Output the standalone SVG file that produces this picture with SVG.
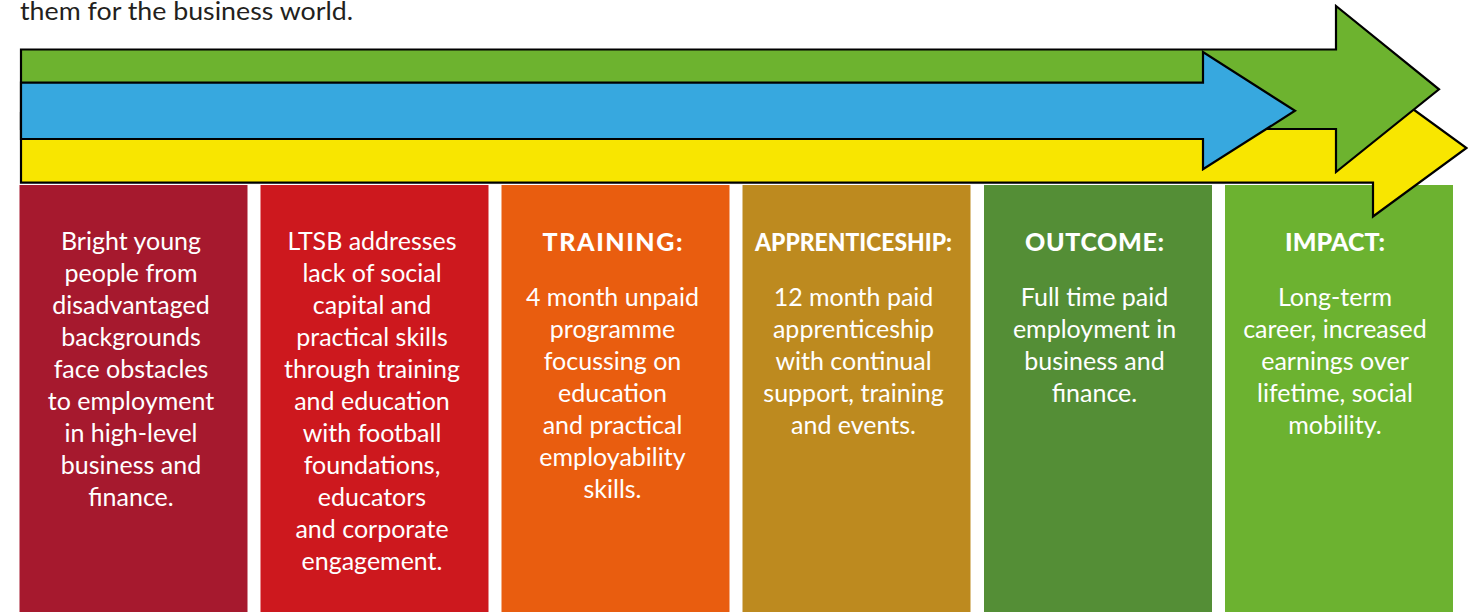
<svg xmlns="http://www.w3.org/2000/svg" width="1468" height="612" viewBox="0 0 1468 612">
<style>
.intro{font-family:Lato,"Noto Sans","Liberation Sans",sans-serif;font-size:25px;fill:#231f20}
.body{font-family:Lato,"Noto Sans","Liberation Sans",sans-serif;font-size:25px;fill:#ffffff;text-anchor:middle}
.head{font-family:Lato,"Noto Sans","Liberation Sans",sans-serif;font-size:25px;font-weight:900;fill:#ffffff;text-anchor:middle}
.arrow{stroke:#000;stroke-width:2.2;stroke-linejoin:miter}
</style>
<rect width="1468" height="612" fill="#ffffff"/>
<text class="intro" x="20" y="20" textLength="333" lengthAdjust="spacingAndGlyphs">them for the business world.</text>

<g id="col1">
<rect x="19.5" y="185" width="228" height="427" fill="#A6192E"/>
<text class="body"><tspan x="131" y="250">Bright young</tspan><tspan x="131" y="282">people from</tspan><tspan x="131" y="314">disadvantaged</tspan><tspan x="131" y="346">backgrounds</tspan><tspan x="131" y="378">face obstacles</tspan><tspan x="131" y="410">to employment</tspan><tspan x="131" y="442">in high-level</tspan><tspan x="131" y="474">business and</tspan><tspan x="131" y="506">finance.</tspan></text>
</g>
<g id="col2">
<rect x="260.5" y="185" width="228" height="427" fill="#CD181E"/>
<text class="body"><tspan x="372" y="250">LTSB addresses</tspan><tspan x="372" y="282">lack of social</tspan><tspan x="372" y="314">capital and</tspan><tspan x="372" y="346">practical skills</tspan><tspan x="372" y="378">through training</tspan><tspan x="372" y="410">and education</tspan><tspan x="372" y="442">with football</tspan><tspan x="372" y="474">foundations,</tspan><tspan x="372" y="506">educators</tspan><tspan x="372" y="538">and corporate</tspan><tspan x="372" y="570">engagement.</tspan></text>
</g>
<g id="col3">
<rect x="501.5" y="185" width="228" height="427" fill="#E95D0F"/>
<text class="head" x="612.5" y="250.5" textLength="140">TRAINING:</text>
<text class="body"><tspan x="612.5" y="306">4 month unpaid</tspan><tspan x="612.5" y="338">programme</tspan><tspan x="612.5" y="370">focussing on</tspan><tspan x="612.5" y="402">education</tspan><tspan x="612.5" y="434">and practical</tspan><tspan x="612.5" y="466">employability</tspan><tspan x="612.5" y="498">skills.</tspan></text>
</g>
<g id="col4">
<rect x="742.5" y="185" width="228" height="427" fill="#BD8A1F"/>
<text class="head" x="853.5" y="250.5" textLength="197" lengthAdjust="spacingAndGlyphs">APPRENTICESHIP:</text>
<text class="body"><tspan x="853.5" y="306">12 month paid</tspan><tspan x="853.5" y="338">apprenticeship</tspan><tspan x="853.5" y="370">with continual</tspan><tspan x="853.5" y="402">support, training</tspan><tspan x="853.5" y="434">and events.</tspan></text>
</g>
<g id="col5">
<rect x="984" y="185" width="228" height="427" fill="#548E36"/>
<text class="head" x="1094.5" y="250.5" textLength="139">OUTCOME:</text>
<text class="body"><tspan x="1094.5" y="306">Full time paid</tspan><tspan x="1094.5" y="338">employment in</tspan><tspan x="1094.5" y="370">business and</tspan><tspan x="1094.5" y="402">finance.</tspan></text>
</g>
<g id="col6">
<rect x="1225" y="185" width="228" height="427" fill="#6CB230"/>
<text class="head" x="1335" y="250.5" textLength="100">IMPACT:</text>
<text class="body"><tspan x="1335" y="306">Long-term</tspan><tspan x="1335" y="338">career, increased</tspan><tspan x="1335" y="370">earnings over</tspan><tspan x="1335" y="402">lifetime, social</tspan><tspan x="1335" y="434">mobility.</tspan></text>
</g>

<g id="arrows">
<polygon id="arrow-yellow" class="arrow" fill="#F8E600" points="21,113 1373,113 1373,80 1466.5,148 1373,216.5 1373,182.7 21,182.7"/>
<polygon id="arrow-green" class="arrow" fill="#6DB32F" points="21,49.5 1336,49.5 1336,6 1439,89.3 1336,172 1336,129 21,129"/>
<polygon id="arrow-blue" class="arrow" fill="#37A8DF" points="21,82.6 1203,82.6 1203,52 1295,110.8 1203,169.3 1203,139 21,139"/>
</g>
</svg>
